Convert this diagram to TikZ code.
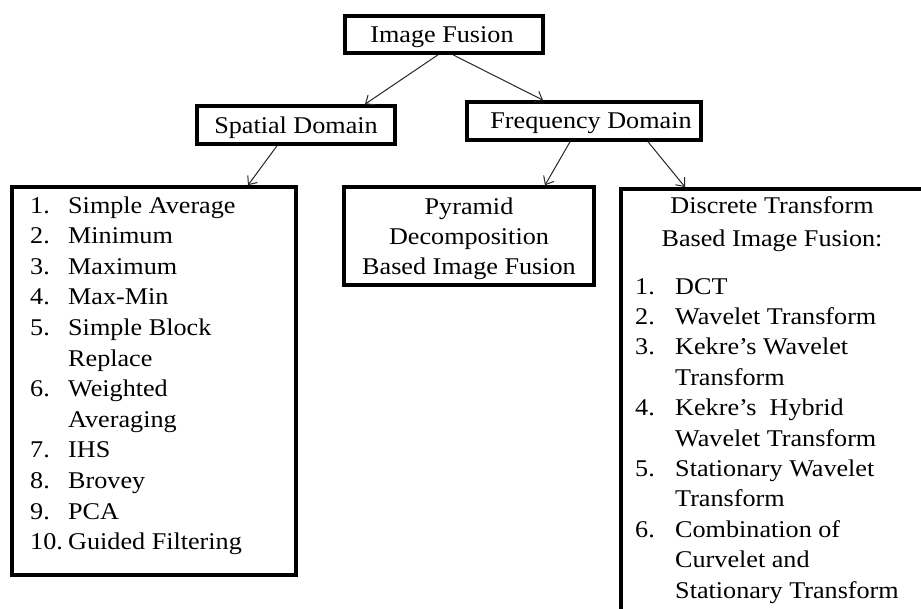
\documentclass[tikz,border=0pt]{standalone}
\usepackage{fontspec}
\setmainfont{Liberation Serif}[FakeStretch=1.09]
\usetikzlibrary{arrows.meta}
\begin{document}
\begin{tikzpicture}[x=1pt,y=-1pt,
  box/.style={draw=black,line width=3.6pt,inner sep=0pt},
  txt/.style={inner sep=0pt,font=\fontsize{24}{30}\selectfont,text=black},
  conn/.style={draw=black!85,line width=1pt,-{Straight Barb[length=7pt,width=12pt]}}]
\useasboundingbox (0,0) rectangle (921,608);
% boxes
\node[box,minimum width=198pt,minimum height=37pt] (IF) at (444,34.5) {};
\node[box,minimum width=198pt,minimum height=38pt] (SD) at (296,125) {};
\node[box,minimum width=234pt,minimum height=38pt] (FD) at (584,121) {};
\node[box,minimum width=284pt,minimum height=388pt] (LB) at (154,381) {};
\node[box,minimum width=250pt,minimum height=98pt] (PB) at (469,236) {};
\node[box,minimum width=360pt,minimum height=480pt,anchor=north west] (DB) at (619,187) {};
% titles
\node[txt,anchor=base] (IFt) at (442,42) {Image Fusion};
\node[txt,anchor=base] (SDt) at (296,133) {Spatial Domain};
\node[txt,anchor=base] (FDt) at (591,128) {Frequency Domain};
\node[txt,anchor=base] (PB1) at (469,214) {Pyramid};
\node[txt,anchor=base] (PB2) at (469,244) {Decomposition};
\node[txt,anchor=base] (PB3) at (469,274) {Based Image Fusion};
\node[txt,anchor=base] (DB1) at (772,213) {Discrete Transform};
\node[txt,anchor=base] (DB2) at (772,246) {Based Image Fusion:};
% left list
\foreach \n/\t/\k in {1./Simple Average/0, 2./Minimum/1, 3./Maximum/2, 4./Max-Min/3,
  5./Simple Block/4, /Replace/5, 6./Weighted/6, /Averaging/7, 7./IHS/8,
  8./Brovey/9, 9./PCA/10, 10./Guided Filtering/11}{
  \node[txt,anchor=base west] (ln\k) at (30,213+30.6*\k) {\n};
  \node[txt,anchor=base west] (lt\k) at (68,213+30.6*\k) {\t};
}
% right list
\foreach \n/\t/\k in {1./DCT/0, 2./Wavelet Transform/1, 3./Kekre’s Wavelet/2, /Transform/3,
  4./Kekre’s\ \ Hybrid/4, /Wavelet Transform/5, 5./Stationary Wavelet/6, /Transform/7,
  6./Combination of/8, /Curvelet and/9, /Stationary Transform/10}{
  \node[txt,anchor=base west] (rn\k) at (635,294+30.4*\k) {\n};
  \node[txt,anchor=base west] (rt\k) at (675,294+30.4*\k) {\t};
}
% connectors
\draw[conn] ([xshift=-6pt]IF.south) -- ([xshift=69pt]SD.north);
\draw[conn] ([xshift=9pt]IF.south) -- ([xshift=-41pt]FD.north);
\draw[conn] ([xshift=-19pt]SD.south) -- ([xshift=94pt]LB.north);
\draw[conn] ([xshift=-14pt]FD.south) -- ([xshift=76pt]PB.north);
\draw[conn] ([xshift=64pt]FD.south) -- ([xshift=66pt]DB.north west);
\end{tikzpicture}
\end{document}
